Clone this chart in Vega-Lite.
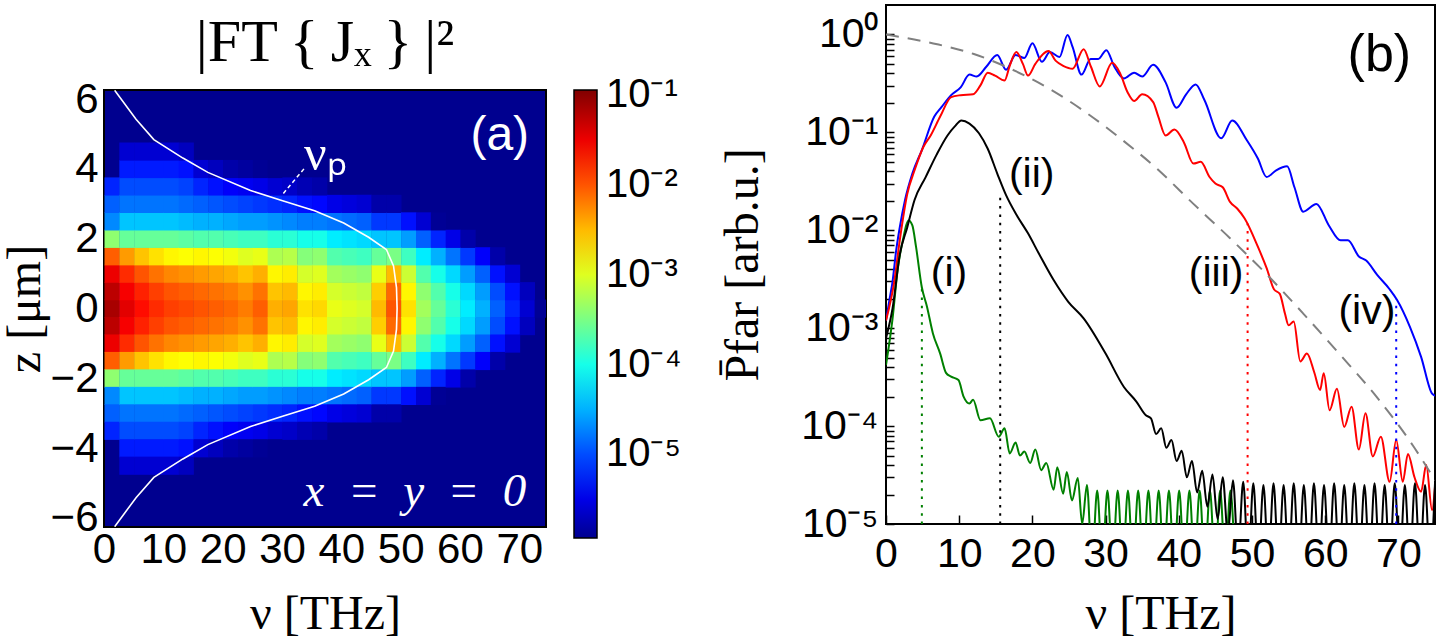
{
  "$schema": "https://vega.github.io/schema/vega-lite/v6.json",
  "background": "white",
  "padding": {"left": 0, "top": 4, "right": 0, "bottom": 0},
  "spacing": 35,
  "config": {
    "font": "Liberation Sans",
    "view": {"stroke": "black", "strokeWidth": 2},
    "axis": {
      "domain": false, "grid": false,
      "tickColor": "black", "tickSize": 6, "tickWidth": 1.5,
      "labelFont": "Liberation Sans", "labelFontSize": 40, "labelColor": "black",
      "labelPadding": 4, "labelFlush": false, "labelOverlap": false,
      "titleFont": "Liberation Serif", "titleFontSize": 48, "titleFontWeight": "normal", "titleColor": "black"
    }
  },
  "datasets": {
    "heat": [
      {"n":0,"z":-0.25,"v":-1.15},{"n":0,"z":0.25,"v":-1.25},{"n":0,"z":-0.75,"v":-1.25},{"n":0,"z":0.75,"v":-1.5},{"n":0,"z":-1.25,"v":-1.5},{"n":0,"z":1.25,"v":-2.05},{"n":0,"z":-1.75,"v":-2.05},{"n":0,"z":1.75,"v":-3.4},{"n":0,"z":-2.25,"v":-3.4},{"n":0,"z":2.25,"v":-4.7},{"n":0,"z":-2.75,"v":-4.7},{"n":0,"z":2.75,"v":-4.9},{"n":0,"z":-3.25,"v":-4.9},{"n":0,"z":3.25,"v":-5.2},{"n":0,"z":-3.75,"v":-5.2},
      {"n":2.5,"z":-0.25,"v":-1.45},{"n":2.5,"z":0.25,"v":-1.55},{"n":2.5,"z":-0.75,"v":-1.55},{"n":2.5,"z":0.75,"v":-1.8},{"n":2.5,"z":-1.25,"v":-1.8},{"n":2.5,"z":1.25,"v":-2.35},{"n":2.5,"z":-1.75,"v":-2.35},{"n":2.5,"z":1.75,"v":-3.6},{"n":2.5,"z":-2.25,"v":-3.6},{"n":2.5,"z":2.25,"v":-4.4},{"n":2.5,"z":-2.75,"v":-4.4},{"n":2.5,"z":2.75,"v":-4.8},{"n":2.5,"z":-3.25,"v":-4.8},{"n":2.5,"z":3.25,"v":-5.0},{"n":2.5,"z":-3.75,"v":-5.0},{"n":2.5,"z":3.75,"v":-5.25},{"n":2.5,"z":-4.25,"v":-5.25},{"n":2.5,"z":4.25,"v":-5.6},{"n":2.5,"z":-4.75,"v":-5.6},
      {"n":5,"z":-0.25,"v":-1.65},{"n":5,"z":0.25,"v":-1.75},{"n":5,"z":-0.75,"v":-1.75},{"n":5,"z":0.75,"v":-2.0},{"n":5,"z":-1.25,"v":-2.0},{"n":5,"z":1.25,"v":-2.55},{"n":5,"z":-1.75,"v":-2.55},{"n":5,"z":1.75,"v":-3.6},{"n":5,"z":-2.25,"v":-3.6},{"n":5,"z":2.25,"v":-4.4},{"n":5,"z":-2.75,"v":-4.4},{"n":5,"z":2.75,"v":-4.8},{"n":5,"z":-3.25,"v":-4.8},{"n":5,"z":3.25,"v":-5.0},{"n":5,"z":-3.75,"v":-5.0},{"n":5,"z":3.75,"v":-5.25},{"n":5,"z":-4.25,"v":-5.25},{"n":5,"z":4.25,"v":-5.6},{"n":5,"z":-4.75,"v":-5.6},
      {"n":7.5,"z":-0.25,"v":-1.8},{"n":7.5,"z":0.25,"v":-1.9},{"n":7.5,"z":-0.75,"v":-1.9},{"n":7.5,"z":0.75,"v":-2.15},{"n":7.5,"z":-1.25,"v":-2.15},{"n":7.5,"z":1.25,"v":-2.7},{"n":7.5,"z":-1.75,"v":-2.7},{"n":7.5,"z":1.75,"v":-3.6},{"n":7.5,"z":-2.25,"v":-3.6},{"n":7.5,"z":2.25,"v":-4.4},{"n":7.5,"z":-2.75,"v":-4.4},{"n":7.5,"z":2.75,"v":-4.8},{"n":7.5,"z":-3.25,"v":-4.8},{"n":7.5,"z":3.25,"v":-5.0},{"n":7.5,"z":-3.75,"v":-5.0},{"n":7.5,"z":3.75,"v":-5.25},{"n":7.5,"z":-4.25,"v":-5.25},{"n":7.5,"z":4.25,"v":-5.6},{"n":7.5,"z":-4.75,"v":-5.6},
      {"n":10,"z":-0.25,"v":-1.9},{"n":10,"z":0.25,"v":-2.0},{"n":10,"z":-0.75,"v":-2.0},{"n":10,"z":0.75,"v":-2.25},{"n":10,"z":-1.25,"v":-2.25},{"n":10,"z":1.25,"v":-2.8},{"n":10,"z":-1.75,"v":-2.8},{"n":10,"z":1.75,"v":-3.6},{"n":10,"z":-2.25,"v":-3.6},{"n":10,"z":2.25,"v":-4.4},{"n":10,"z":-2.75,"v":-4.4},{"n":10,"z":2.75,"v":-4.8},{"n":10,"z":-3.25,"v":-4.8},{"n":10,"z":3.25,"v":-5.0},{"n":10,"z":-3.75,"v":-5.0},{"n":10,"z":3.75,"v":-5.25},{"n":10,"z":-4.25,"v":-5.25},{"n":10,"z":4.25,"v":-5.6},{"n":10,"z":-4.75,"v":-5.6},
      {"n":12.5,"z":-0.25,"v":-1.95},{"n":12.5,"z":0.25,"v":-2.05},{"n":12.5,"z":-0.75,"v":-2.05},{"n":12.5,"z":0.75,"v":-2.3},{"n":12.5,"z":-1.25,"v":-2.3},{"n":12.5,"z":1.25,"v":-2.85},{"n":12.5,"z":-1.75,"v":-2.85},{"n":12.5,"z":1.75,"v":-3.65},{"n":12.5,"z":-2.25,"v":-3.65},{"n":12.5,"z":2.25,"v":-4.45},{"n":12.5,"z":-2.75,"v":-4.45},{"n":12.5,"z":2.75,"v":-4.85},{"n":12.5,"z":-3.25,"v":-4.85},{"n":12.5,"z":3.25,"v":-5.05},{"n":12.5,"z":-3.75,"v":-5.05},{"n":12.5,"z":3.75,"v":-5.3},{"n":12.5,"z":-4.25,"v":-5.3},{"n":12.5,"z":4.25,"v":-5.7},{"n":12.5,"z":-4.75,"v":-5.7},
      {"n":15,"z":-0.25,"v":-2.0},{"n":15,"z":0.25,"v":-2.1},{"n":15,"z":-0.75,"v":-2.1},{"n":15,"z":0.75,"v":-2.35},{"n":15,"z":-1.25,"v":-2.35},{"n":15,"z":1.25,"v":-2.8},{"n":15,"z":-1.75,"v":-2.8},{"n":15,"z":1.75,"v":-3.7},{"n":15,"z":-2.25,"v":-3.7},{"n":15,"z":2.25,"v":-4.5},{"n":15,"z":-2.75,"v":-4.5},{"n":15,"z":2.75,"v":-4.9},{"n":15,"z":-3.25,"v":-4.9},{"n":15,"z":3.25,"v":-5.2},{"n":15,"z":-3.75,"v":-5.2},{"n":15,"z":3.75,"v":-5.6},{"n":15,"z":-4.25,"v":-5.6},
      {"n":17.5,"z":-0.25,"v":-2.05},{"n":17.5,"z":0.25,"v":-2.15},{"n":17.5,"z":-0.75,"v":-2.15},{"n":17.5,"z":0.75,"v":-2.4},{"n":17.5,"z":-1.25,"v":-2.4},{"n":17.5,"z":1.25,"v":-2.85},{"n":17.5,"z":-1.75,"v":-2.85},{"n":17.5,"z":1.75,"v":-3.7},{"n":17.5,"z":-2.25,"v":-3.7},{"n":17.5,"z":2.25,"v":-4.5},{"n":17.5,"z":-2.75,"v":-4.5},{"n":17.5,"z":2.75,"v":-4.95},{"n":17.5,"z":-3.25,"v":-4.95},{"n":17.5,"z":3.25,"v":-5.3},{"n":17.5,"z":-3.75,"v":-5.3},{"n":17.5,"z":3.75,"v":-5.7},{"n":17.5,"z":-4.25,"v":-5.7},
      {"n":20,"z":-0.25,"v":-2.1},{"n":20,"z":0.25,"v":-2.2},{"n":20,"z":-0.75,"v":-2.2},{"n":20,"z":0.75,"v":-2.45},{"n":20,"z":-1.25,"v":-2.45},{"n":20,"z":1.25,"v":-2.9},{"n":20,"z":-1.75,"v":-2.9},{"n":20,"z":1.75,"v":-3.75},{"n":20,"z":-2.25,"v":-3.75},{"n":20,"z":2.25,"v":-4.55},{"n":20,"z":-2.75,"v":-4.55},{"n":20,"z":2.75,"v":-5.0},{"n":20,"z":-3.25,"v":-5.0},{"n":20,"z":3.25,"v":-5.4},{"n":20,"z":-3.75,"v":-5.4},{"n":20,"z":3.75,"v":-5.8},{"n":20,"z":-4.25,"v":-5.8},
      {"n":22.5,"z":-0.25,"v":-2.2},{"n":22.5,"z":0.25,"v":-2.3},{"n":22.5,"z":-0.75,"v":-2.3},{"n":22.5,"z":0.75,"v":-2.55},{"n":22.5,"z":-1.25,"v":-2.55},{"n":22.5,"z":1.25,"v":-3.0},{"n":22.5,"z":-1.75,"v":-3.0},{"n":22.5,"z":1.75,"v":-3.8},{"n":22.5,"z":-2.25,"v":-3.8},{"n":22.5,"z":2.25,"v":-4.6},{"n":22.5,"z":-2.75,"v":-4.6},{"n":22.5,"z":2.75,"v":-5.05},{"n":22.5,"z":-3.25,"v":-5.05},{"n":22.5,"z":3.25,"v":-5.45},{"n":22.5,"z":-3.75,"v":-5.45},{"n":22.5,"z":3.75,"v":-5.85},{"n":22.5,"z":-4.25,"v":-5.85},
      {"n":25,"z":-0.25,"v":-2.05},{"n":25,"z":0.25,"v":-2.15},{"n":25,"z":-0.75,"v":-2.15},{"n":25,"z":0.75,"v":-2.45},{"n":25,"z":-1.25,"v":-2.45},{"n":25,"z":1.25,"v":-2.95},{"n":25,"z":-1.75,"v":-2.95},{"n":25,"z":1.75,"v":-3.8},{"n":25,"z":-2.25,"v":-3.8},{"n":25,"z":2.25,"v":-4.6},{"n":25,"z":-2.75,"v":-4.6},{"n":25,"z":2.75,"v":-5.1},{"n":25,"z":-3.25,"v":-5.1},{"n":25,"z":3.25,"v":-5.5},{"n":25,"z":-3.75,"v":-5.5},{"n":25,"z":3.75,"v":-5.9},{"n":25,"z":-4.25,"v":-5.9},
      {"n":27.5,"z":-0.25,"v":-2.45},{"n":27.5,"z":0.25,"v":-2.55},{"n":27.5,"z":-0.75,"v":-2.55},{"n":27.5,"z":0.75,"v":-2.8},{"n":27.5,"z":-1.25,"v":-2.8},{"n":27.5,"z":1.25,"v":-3.25},{"n":27.5,"z":-1.75,"v":-3.25},{"n":27.5,"z":1.75,"v":-3.9},{"n":27.5,"z":-2.25,"v":-3.9},{"n":27.5,"z":2.25,"v":-4.65},{"n":27.5,"z":-2.75,"v":-4.65},{"n":27.5,"z":2.75,"v":-5.15},{"n":27.5,"z":-3.25,"v":-5.15},{"n":27.5,"z":3.25,"v":-5.6},{"n":27.5,"z":-3.75,"v":-5.6},{"n":27.5,"z":3.75,"v":-6.0},{"n":27.5,"z":-4.25,"v":-6.0},
      {"n":30,"z":-0.25,"v":-2.4},{"n":30,"z":0.25,"v":-2.5},{"n":30,"z":-0.75,"v":-2.5},{"n":30,"z":0.75,"v":-2.75},{"n":30,"z":-1.25,"v":-2.75},{"n":30,"z":1.25,"v":-3.2},{"n":30,"z":-1.75,"v":-3.2},{"n":30,"z":1.75,"v":-3.9},{"n":30,"z":-2.25,"v":-3.9},{"n":30,"z":2.25,"v":-4.7},{"n":30,"z":-2.75,"v":-4.7},{"n":30,"z":2.75,"v":-5.2},{"n":30,"z":-3.25,"v":-5.2},{"n":30,"z":3.25,"v":-5.65},{"n":30,"z":-3.75,"v":-5.65},
      {"n":32.5,"z":-0.25,"v":-2.7},{"n":32.5,"z":0.25,"v":-2.8},{"n":32.5,"z":-0.75,"v":-2.8},{"n":32.5,"z":0.75,"v":-3.05},{"n":32.5,"z":-1.25,"v":-3.05},{"n":32.5,"z":1.25,"v":-3.45},{"n":32.5,"z":-1.75,"v":-3.45},{"n":32.5,"z":1.75,"v":-4.0},{"n":32.5,"z":-2.25,"v":-4.0},{"n":32.5,"z":2.25,"v":-4.75},{"n":32.5,"z":-2.75,"v":-4.75},{"n":32.5,"z":2.75,"v":-5.3},{"n":32.5,"z":-3.25,"v":-5.3},{"n":32.5,"z":3.25,"v":-5.75},{"n":32.5,"z":-3.75,"v":-5.75},
      {"n":35,"z":-0.25,"v":-2.65},{"n":35,"z":0.25,"v":-2.75},{"n":35,"z":-0.75,"v":-2.75},{"n":35,"z":0.75,"v":-3.0},{"n":35,"z":-1.25,"v":-3.0},{"n":35,"z":1.25,"v":-3.4},{"n":35,"z":-1.75,"v":-3.4},{"n":35,"z":1.75,"v":-4.0},{"n":35,"z":-2.25,"v":-4.0},{"n":35,"z":2.25,"v":-4.75},{"n":35,"z":-2.75,"v":-4.75},{"n":35,"z":2.75,"v":-5.35},{"n":35,"z":-3.25,"v":-5.35},{"n":35,"z":3.25,"v":-5.8},{"n":35,"z":-3.75,"v":-5.8},
      {"n":37.5,"z":-0.25,"v":-2.95},{"n":37.5,"z":0.25,"v":-3.05},{"n":37.5,"z":-0.75,"v":-3.05},{"n":37.5,"z":0.75,"v":-3.3},{"n":37.5,"z":-1.25,"v":-3.3},{"n":37.5,"z":1.25,"v":-3.7},{"n":37.5,"z":-1.75,"v":-3.7},{"n":37.5,"z":1.75,"v":-4.2},{"n":37.5,"z":-2.25,"v":-4.2},{"n":37.5,"z":2.25,"v":-4.8},{"n":37.5,"z":-2.75,"v":-4.8},{"n":37.5,"z":2.75,"v":-5.5},{"n":37.5,"z":-3.25,"v":-5.5},
      {"n":40,"z":-0.25,"v":-3.0},{"n":40,"z":0.25,"v":-3.1},{"n":40,"z":-0.75,"v":-3.1},{"n":40,"z":0.75,"v":-3.35},{"n":40,"z":-1.25,"v":-3.35},{"n":40,"z":1.25,"v":-3.75},{"n":40,"z":-1.75,"v":-3.75},{"n":40,"z":1.75,"v":-4.25},{"n":40,"z":-2.25,"v":-4.25},{"n":40,"z":2.25,"v":-4.85},{"n":40,"z":-2.75,"v":-4.85},{"n":40,"z":2.75,"v":-5.55},{"n":40,"z":-3.25,"v":-5.55},
      {"n":42.5,"z":-0.25,"v":-3.05},{"n":42.5,"z":0.25,"v":-3.15},{"n":42.5,"z":-0.75,"v":-3.15},{"n":42.5,"z":0.75,"v":-3.4},{"n":42.5,"z":-1.25,"v":-3.4},{"n":42.5,"z":1.25,"v":-3.8},{"n":42.5,"z":-1.75,"v":-3.8},{"n":42.5,"z":1.75,"v":-4.3},{"n":42.5,"z":-2.25,"v":-4.3},{"n":42.5,"z":2.25,"v":-4.9},{"n":42.5,"z":-2.75,"v":-4.9},{"n":42.5,"z":2.75,"v":-5.6},{"n":42.5,"z":-3.25,"v":-5.6},
      {"n":45,"z":-0.25,"v":-2.5},{"n":45,"z":0.25,"v":-2.6},{"n":45,"z":-0.75,"v":-2.6},{"n":45,"z":0.75,"v":-2.95},{"n":45,"z":-1.25,"v":-2.95},{"n":45,"z":1.25,"v":-3.6},{"n":45,"z":-1.75,"v":-3.6},{"n":45,"z":1.75,"v":-4.4},{"n":45,"z":-2.25,"v":-4.4},{"n":45,"z":2.25,"v":-5.1},{"n":45,"z":-2.75,"v":-5.1},{"n":45,"z":2.75,"v":-5.8},{"n":45,"z":-3.25,"v":-5.8},
      {"n":47.5,"z":-0.25,"v":-2.0},{"n":47.5,"z":0.25,"v":-2.1},{"n":47.5,"z":-0.75,"v":-2.1},{"n":47.5,"z":0.75,"v":-2.5},{"n":47.5,"z":-1.25,"v":-2.5},{"n":47.5,"z":1.25,"v":-3.5},{"n":47.5,"z":-1.75,"v":-3.5},{"n":47.5,"z":1.75,"v":-4.4},{"n":47.5,"z":-2.25,"v":-4.4},{"n":47.5,"z":2.25,"v":-5.1},{"n":47.5,"z":-2.75,"v":-5.1},{"n":47.5,"z":2.75,"v":-5.8},{"n":47.5,"z":-3.25,"v":-5.8},
      {"n":50,"z":-0.25,"v":-2.7},{"n":50,"z":0.25,"v":-2.8},{"n":50,"z":-0.75,"v":-2.8},{"n":50,"z":0.75,"v":-3.1},{"n":50,"z":-1.25,"v":-3.1},{"n":50,"z":1.25,"v":-3.8},{"n":50,"z":-1.75,"v":-3.8},{"n":50,"z":1.75,"v":-4.6},{"n":50,"z":-2.25,"v":-4.6},{"n":50,"z":2.25,"v":-5.3},{"n":50,"z":-2.75,"v":-5.3},
      {"n":52.5,"z":-0.25,"v":-3.3},{"n":52.5,"z":0.25,"v":-3.4},{"n":52.5,"z":-0.75,"v":-3.4},{"n":52.5,"z":0.75,"v":-3.7},{"n":52.5,"z":-1.25,"v":-3.7},{"n":52.5,"z":1.25,"v":-4.2},{"n":52.5,"z":-1.75,"v":-4.2},{"n":52.5,"z":1.75,"v":-4.9},{"n":52.5,"z":-2.25,"v":-4.9},{"n":52.5,"z":2.25,"v":-5.6},{"n":52.5,"z":-2.75,"v":-5.6},
      {"n":55,"z":-0.25,"v":-3.6},{"n":55,"z":0.25,"v":-3.7},{"n":55,"z":-0.75,"v":-3.7},{"n":55,"z":0.75,"v":-4.0},{"n":55,"z":-1.25,"v":-4.0},{"n":55,"z":1.25,"v":-4.5},{"n":55,"z":-1.75,"v":-4.5},{"n":55,"z":1.75,"v":-5.2},{"n":55,"z":-2.25,"v":-5.2},{"n":55,"z":2.25,"v":-5.9},{"n":55,"z":-2.75,"v":-5.9},
      {"n":57.5,"z":-0.25,"v":-3.9},{"n":57.5,"z":0.25,"v":-4.0},{"n":57.5,"z":-0.75,"v":-4.0},{"n":57.5,"z":0.75,"v":-4.3},{"n":57.5,"z":-1.25,"v":-4.3},{"n":57.5,"z":1.25,"v":-4.8},{"n":57.5,"z":-1.75,"v":-4.8},{"n":57.5,"z":1.75,"v":-5.5},{"n":57.5,"z":-2.25,"v":-5.5},
      {"n":60,"z":-0.25,"v":-4.2},{"n":60,"z":0.25,"v":-4.3},{"n":60,"z":-0.75,"v":-4.3},{"n":60,"z":0.75,"v":-4.6},{"n":60,"z":-1.25,"v":-4.6},{"n":60,"z":1.25,"v":-5.1},{"n":60,"z":-1.75,"v":-5.1},{"n":60,"z":1.75,"v":-5.8},{"n":60,"z":-2.25,"v":-5.8},
      {"n":62.5,"z":-0.25,"v":-4.5},{"n":62.5,"z":0.25,"v":-4.6},{"n":62.5,"z":-0.75,"v":-4.6},{"n":62.5,"z":0.75,"v":-4.9},{"n":62.5,"z":-1.25,"v":-4.9},{"n":62.5,"z":1.25,"v":-5.4},{"n":62.5,"z":-1.75,"v":-5.4},
      {"n":65,"z":-0.25,"v":-4.9},{"n":65,"z":0.25,"v":-5.0},{"n":65,"z":-0.75,"v":-5.0},{"n":65,"z":0.75,"v":-5.3},{"n":65,"z":-1.25,"v":-5.3},{"n":65,"z":1.25,"v":-5.8},{"n":65,"z":-1.75,"v":-5.8},
      {"n":67.5,"z":-0.25,"v":-5.2},{"n":67.5,"z":0.25,"v":-5.3},{"n":67.5,"z":-0.75,"v":-5.3},{"n":67.5,"z":0.75,"v":-5.6},{"n":67.5,"z":-1.25,"v":-5.6},
      {"n":70,"z":-0.25,"v":-5.6},{"n":70,"z":0.25,"v":-5.7},{"n":70,"z":-0.75,"v":-5.7},
      {"n":72.5,"z":-0.25,"v":-5.9}
    ],
    "plasma": [
      {"nu":1.8,"z":-6.25},{"nu":2.1,"z":-6.18},{"nu":5.4,"z":-5.42},{"nu":8.4,"z":-4.84},{"nu":13.3,"z":-4.31},{"nu":17.5,"z":-3.9},{"nu":24.7,"z":-3.38},{"nu":30.1,"z":-3.09},{"nu":35.5,"z":-2.8},{"nu":40.4,"z":-2.45},{"nu":44.6,"z":-2.04},{"nu":47.6,"z":-1.69},{"nu":48.8,"z":-1.22},{"nu":49.3,"z":-0.6},{"nu":49.4,"z":0},{"nu":49.3,"z":0.6},{"nu":48.8,"z":1.22},{"nu":47.6,"z":1.69},{"nu":44.6,"z":2.04},{"nu":40.4,"z":2.45},{"nu":35.5,"z":2.8},{"nu":30.1,"z":3.09},{"nu":24.7,"z":3.38},{"nu":17.5,"z":3.9},{"nu":13.3,"z":4.31},{"nu":8.4,"z":4.84},{"nu":5.4,"z":5.42},{"nu":2.1,"z":6.18},{"nu":1.8,"z":6.25}
    ],
    "spectra": [
      {"s":"blue","x":0,"y":0.0012},{"s":"blue","x":0.5,"y":0.002},{"s":"blue","x":0.87,"y":0.0029},{"s":"blue","x":1.4,"y":0.0063},{"s":"blue","x":1.88,"y":0.0107},{"s":"blue","x":2.6,"y":0.0204},{"s":"blue","x":3.6,"y":0.038},{"s":"blue","x":4.9,"y":0.066},{"s":"blue","x":6.6,"y":0.145},{"s":"blue","x":7.6,"y":0.182},{"s":"blue","x":8.9,"y":0.24},{"s":"blue","x":10.2,"y":0.288},{"s":"blue","x":11.4,"y":0.389},{"s":"blue","x":12.4,"y":0.372},{"s":"blue","x":13.7,"y":0.468},{"s":"blue","x":15.2,"y":0.617},{"s":"blue","x":16.4,"y":0.437},{"s":"blue","x":17.7,"y":0.617},{"s":"blue","x":18.9,"y":0.575},{"s":"blue","x":20.0,"y":0.813},{"s":"blue","x":21.3,"y":0.525},{"s":"blue","x":22.4,"y":0.661},{"s":"blue","x":23.7,"y":0.589},{"s":"blue","x":24.8,"y":0.99},{"s":"blue","x":25.5,"y":0.741},{"s":"blue","x":26.7,"y":0.389},{"s":"blue","x":27.96,"y":0.562},{"s":"blue","x":29.0,"y":0.562},{"s":"blue","x":30.1,"y":0.692},{"s":"blue","x":31.2,"y":0.468},{"s":"blue","x":32.5,"y":0.355},{"s":"blue","x":33.9,"y":0.407},{"s":"blue","x":35.0,"y":0.372},{"s":"blue","x":36.5,"y":0.49},{"s":"blue","x":38.2,"y":0.324},{"s":"blue","x":39.7,"y":0.178},{"s":"blue","x":41.0,"y":0.245},{"s":"blue","x":42.3,"y":0.309},{"s":"blue","x":43.5,"y":0.214},{"s":"blue","x":45.8,"y":0.087},{"s":"blue","x":47.3,"y":0.132},{"s":"blue","x":49.3,"y":0.083},{"s":"blue","x":50.8,"y":0.054},{"s":"blue","x":52.0,"y":0.035},{"s":"blue","x":53.3,"y":0.041},{"s":"blue","x":54.8,"y":0.045},{"s":"blue","x":55.8,"y":0.0275},{"s":"blue","x":57.0,"y":0.0155},{"s":"blue","x":58.8,"y":0.0186},{"s":"blue","x":60.5,"y":0.0112},{"s":"blue","x":62.1,"y":0.0079},{"s":"blue","x":63.1,"y":0.0079},{"s":"blue","x":64.6,"y":0.0054},{"s":"blue","x":65.6,"y":0.0049},{"s":"blue","x":67.1,"y":0.0035},{"s":"blue","x":68.8,"y":0.0025},{"s":"blue","x":69.8,"y":0.00195},{"s":"blue","x":71.6,"y":0.00102},{"s":"blue","x":73.1,"y":0.00051},{"s":"blue","x":74.6,"y":0.000214},{"s":"blue","x":75,"y":0.000204},
      {"s":"red","x":0,"y":0.0012},{"s":"red","x":1.1,"y":0.0029},{"s":"red","x":1.88,"y":0.0079},{"s":"red","x":2.9,"y":0.0234},{"s":"red","x":3.9,"y":0.041},{"s":"red","x":5.1,"y":0.071},{"s":"red","x":6.1,"y":0.093},{"s":"red","x":7.4,"y":0.145},{"s":"red","x":8.9,"y":0.229},{"s":"red","x":10.2,"y":0.24},{"s":"red","x":11.9,"y":0.245},{"s":"red","x":12.9,"y":0.302},{"s":"red","x":13.9,"y":0.407},{"s":"red","x":14.9,"y":0.38},{"s":"red","x":16.2,"y":0.339},{"s":"red","x":16.9,"y":0.479},{"s":"red","x":17.8,"y":0.661},{"s":"red","x":18.7,"y":0.501},{"s":"red","x":19.4,"y":0.38},{"s":"red","x":20.4,"y":0.501},{"s":"red","x":22.2,"y":0.676},{"s":"red","x":23.2,"y":0.537},{"s":"red","x":24.2,"y":0.479},{"s":"red","x":25.5,"y":0.447},{"s":"red","x":27.0,"y":0.708},{"s":"red","x":28.0,"y":0.468},{"s":"red","x":29.2,"y":0.295},{"s":"red","x":30.9,"y":0.513},{"s":"red","x":32.0,"y":0.398},{"s":"red","x":33.0,"y":0.257},{"s":"red","x":33.9,"y":0.209},{"s":"red","x":35.0,"y":0.245},{"s":"red","x":36.5,"y":0.204},{"s":"red","x":37.2,"y":0.145},{"s":"red","x":38.2,"y":0.093},{"s":"red","x":39.4,"y":0.107},{"s":"red","x":40.7,"y":0.079},{"s":"red","x":42.0,"y":0.048},{"s":"red","x":43.0,"y":0.05},{"s":"red","x":44.2,"y":0.035},{"s":"red","x":45.0,"y":0.03},{"s":"red","x":46.0,"y":0.0275},{"s":"red","x":47.0,"y":0.0195},{"s":"red","x":48.0,"y":0.0166},{"s":"red","x":49.0,"y":0.0132},{"s":"red","x":50.8,"y":0.0068},{"s":"red","x":52.0,"y":0.0041},{"s":"red","x":53.0,"y":0.0025},{"s":"red","x":53.8,"y":0.00224},{"s":"red","x":54.5,"y":0.00141},{"s":"red","x":55.0,"y":0.00107},{"s":"red","x":55.7,"y":0.00117},{"s":"red","x":56.6,"y":0.000457},{"s":"red","x":57.5,"y":0.00055},{"s":"red","x":58.5,"y":0.000355},{"s":"red","x":59.3,"y":0.000234},{"s":"red","x":59.8,"y":0.000347},{"s":"red","x":60.6,"y":0.000145},{"s":"red","x":61.6,"y":0.00024},{"s":"red","x":62.6,"y":0.000098},{"s":"red","x":63.6,"y":0.000158},{"s":"red","x":64.6,"y":0.0000575},{"s":"red","x":65.5,"y":0.000135},{"s":"red","x":66.5,"y":0.000049},{"s":"red","x":67.6,"y":0.000078},{"s":"red","x":68.8,"y":0.000027},{"s":"red","x":69.7,"y":0.000072},{"s":"red","x":70.6,"y":0.000027},{"s":"red","x":71.3,"y":0.000052},{"s":"red","x":72.2,"y":0.00003},{"s":"red","x":73.1,"y":0.0000214},{"s":"red","x":73.8,"y":0.00004},{"s":"red","x":74.6,"y":0.0000138},{"s":"red","x":75,"y":0.000024},
      {"s":"green","x":0,"y":0.00042},{"s":"green","x":0.9,"y":0.00126},{"s":"green","x":1.6,"y":0.004},{"s":"green","x":2.3,"y":0.0079},{"s":"green","x":3.1,"y":0.0126},{"s":"green","x":3.6,"y":0.0112},{"s":"green","x":4.1,"y":0.0068},{"s":"green","x":4.9,"y":0.0026},{"s":"green","x":5.6,"y":0.00166},{"s":"green","x":6.4,"y":0.00089},{"s":"green","x":7.4,"y":0.00055},{"s":"green","x":8.2,"y":0.00035},{"s":"green","x":8.9,"y":0.00032},{"s":"green","x":9.9,"y":0.000295},{"s":"green","x":10.6,"y":0.0002},{"s":"green","x":11.4,"y":0.00017},{"s":"green","x":11.9,"y":0.000186},{"s":"green","x":12.9,"y":0.000115},{"s":"green","x":14.2,"y":0.00012},{"s":"green","x":15.4,"y":0.000078},{"s":"green","x":16.2,"y":0.000095},{"s":"green","x":16.9,"y":0.0000525},{"s":"green","x":17.7,"y":0.000068},{"s":"green","x":18.3,"y":0.00005},{"s":"green","x":18.9,"y":0.000055},{"s":"green","x":19.7,"y":0.000042},{"s":"green","x":20.4,"y":0.0000575},{"s":"green","x":21.2,"y":0.0000355},{"s":"green","x":21.9,"y":0.000042},{"s":"green","x":22.9,"y":0.0000224},{"s":"green","x":23.4,"y":0.000038},{"s":"green","x":24.2,"y":0.0000204},{"s":"green","x":24.7,"y":0.000034},{"s":"green","x":25.4,"y":0.0000174},{"s":"green","x":26.2,"y":0.0000295},{"s":"green","x":26.8,"y":0.00001},{"s":"green","x":27.45,"y":0.000025},{"s":"green","x":28.15,"y":0.000004},{"s":"green","x":28.85,"y":0.000022},{"s":"green","x":29.55,"y":0.000004},{"s":"green","x":30.25,"y":0.000022},{"s":"green","x":30.95,"y":0.000004},{"s":"green","x":31.65,"y":0.000022},{"s":"green","x":32.35,"y":0.000004},{"s":"green","x":33.05,"y":0.000022},{"s":"green","x":33.75,"y":0.000004},{"s":"green","x":34.45,"y":0.000022},{"s":"green","x":35.15,"y":0.000004},{"s":"green","x":35.85,"y":0.000022},{"s":"green","x":36.55,"y":0.000004},{"s":"green","x":37.25,"y":0.000022},{"s":"green","x":37.95,"y":0.000004},{"s":"green","x":38.65,"y":0.000022},{"s":"green","x":39.35,"y":0.000004},{"s":"green","x":40.05,"y":0.000022},{"s":"green","x":40.75,"y":0.000004},{"s":"green","x":41.45,"y":0.000022},{"s":"green","x":42.15,"y":0.000004},{"s":"green","x":42.85,"y":0.000022},{"s":"green","x":43.55,"y":0.000004},{"s":"green","x":44.25,"y":0.000022},{"s":"green","x":44.95,"y":0.000004},{"s":"green","x":45.65,"y":0.000022},{"s":"green","x":46.35,"y":0.000004},{"s":"green","x":47.05,"y":0.000022},{"s":"green","x":47.75,"y":0.000004},{"s":"green","x":48.5,"y":0.000002},
      {"s":"black","x":0,"y":0.00079},{"s":"black","x":0.9,"y":0.0016},{"s":"black","x":1.9,"y":0.00575},{"s":"black","x":2.9,"y":0.0107},{"s":"black","x":3.9,"y":0.0204},{"s":"black","x":5.4,"y":0.0347},{"s":"black","x":6.9,"y":0.0589},{"s":"black","x":8.4,"y":0.093},{"s":"black","x":9.4,"y":0.115},{"s":"black","x":10.3,"y":0.132},{"s":"black","x":11.4,"y":0.123},{"s":"black","x":12.7,"y":0.098},{"s":"black","x":13.9,"y":0.068},{"s":"black","x":15.2,"y":0.038},{"s":"black","x":16.4,"y":0.0229},{"s":"black","x":17.9,"y":0.0141},{"s":"black","x":19.4,"y":0.0093},{"s":"black","x":20.9,"y":0.00575},{"s":"black","x":22.9,"y":0.0031},{"s":"black","x":24.9,"y":0.00186},{"s":"black","x":27.0,"y":0.00126},{"s":"black","x":30.0,"y":0.00055},{"s":"black","x":32.5,"y":0.000251},{"s":"black","x":34.2,"y":0.000178},{"s":"black","x":35.5,"y":0.000129},{"s":"black","x":36.2,"y":0.00012},{"s":"black","x":36.9,"y":0.000083},{"s":"black","x":37.6,"y":0.000095},{"s":"black","x":38.3,"y":0.00006},{"s":"black","x":39.0,"y":0.000072},{"s":"black","x":39.7,"y":0.000044},{"s":"black","x":40.4,"y":0.000056},{"s":"black","x":41.1,"y":0.00003},{"s":"black","x":41.8,"y":0.000044},{"s":"black","x":42.5,"y":0.000021},{"s":"black","x":43.2,"y":0.000035},{"s":"black","x":43.9,"y":0.000015},{"s":"black","x":44.6,"y":0.000032},{"s":"black","x":45.3,"y":0.0000112},{"s":"black","x":46.0,"y":0.00003},{"s":"black","x":46.7,"y":0.0000079},{"s":"black","x":47.4,"y":0.000028},{"s":"black","x":48.1,"y":0.000005},{"s":"black","x":48.8,"y":0.000027},{"s":"black","x":49.49,"y":0.000004},{"s":"black","x":50.18,"y":0.000026},{"s":"black","x":50.87,"y":0.000004},{"s":"black","x":51.56,"y":0.000025},{"s":"black","x":52.25,"y":0.000004},{"s":"black","x":52.94,"y":0.000026},{"s":"black","x":53.63,"y":0.000004},{"s":"black","x":54.32,"y":0.000025},{"s":"black","x":55.01,"y":0.000004},{"s":"black","x":55.7,"y":0.000026},{"s":"black","x":56.39,"y":0.000004},{"s":"black","x":57.08,"y":0.000025},{"s":"black","x":57.77,"y":0.000004},{"s":"black","x":58.46,"y":0.000026},{"s":"black","x":59.15,"y":0.000004},{"s":"black","x":59.84,"y":0.000025},{"s":"black","x":60.53,"y":0.000004},{"s":"black","x":61.22,"y":0.000026},{"s":"black","x":61.91,"y":0.000004},{"s":"black","x":62.6,"y":0.000025},{"s":"black","x":63.29,"y":0.000004},{"s":"black","x":63.98,"y":0.000026},{"s":"black","x":64.67,"y":0.000004},{"s":"black","x":65.36,"y":0.000025},{"s":"black","x":66.05,"y":0.000004},{"s":"black","x":66.74,"y":0.000026},{"s":"black","x":67.43,"y":0.000004},{"s":"black","x":68.12,"y":0.000025},{"s":"black","x":68.81,"y":0.000004},{"s":"black","x":69.5,"y":0.000026},{"s":"black","x":70.19,"y":0.000004},{"s":"black","x":70.88,"y":0.000025},{"s":"black","x":71.57,"y":0.000004},{"s":"black","x":72.26,"y":0.000026},{"s":"black","x":72.95,"y":0.000004},{"s":"black","x":73.64,"y":0.000025},{"s":"black","x":74.33,"y":0.000004},{"s":"black","x":75,"y":0.000026}
    ],
    "envelope": [
      {"x":0,"y":1.0},{"x":7,"y":0.794},{"x":12,"y":0.631},{"x":17,"y":0.447},{"x":22,"y":0.288},{"x":27,"y":0.166},{"x":32,"y":0.087},{"x":37,"y":0.0427},{"x":42,"y":0.0186},{"x":47,"y":0.0083},{"x":52,"y":0.00355},{"x":57,"y":0.00141},{"x":62,"y":0.00054},{"x":67,"y":0.0002},{"x":72,"y":0.000063},{"x":75,"y":0.000028}
    ],
    "cutoffs": [
      {"s":"green","x":4.9,"lo":0.00001,"hi":0.0026},
      {"s":"black","x":15.6,"lo":0.00001,"hi":0.0245},
      {"s":"red","x":49.4,"lo":0.00001,"hi":0.0117},
      {"s":"blue","x":69.7,"lo":0.00001,"hi":0.00195}
    ],
    "cases": [
      {"x":8.6,"y":0.0036,"t":"(i)"},
      {"x":19.9,"y":0.037,"t":"(ii)"},
      {"x":45.1,"y":0.0036,"t":"(iii)"},
      {"x":65.7,"y":0.00145,"t":"(iv)"}
    ]
  },
  "hconcat": [
    {
      "spacing": 4,
      "resolve": {"scale": {"color": "independent"}, "legend": {"color": "independent"}},
      "vconcat": [
        {
          "width": 442,
          "height": 64,
          "view": {"stroke": null},
          "data": {"values": [{"t": "|FT\u2009{\u2009Jₓ\u2009}\u2009|²"}]},
          "mark": {"type": "text", "font": "Liberation Serif", "fontSize": 60, "color": "black", "align": "center", "baseline": "middle", "dy": 6},
          "encoding": {"text": {"field": "t"}}
        },
        {
          "width": 442,
          "height": 437,
          "view": {"fill": "#00008F", "stroke": "black", "strokeWidth": 2},
          "layer": [
            {
              "data": {"name": "heat"},
              "mark": {"type": "rect", "clip": true},
              "encoding": {
                "x": {"field": "n", "type": "quantitative", "bin": {"binned": true, "step": 2.56},
                      "scale": {"domain": [0, 74.5], "nice": false},
                      "axis": {"values": [0,10,20,30,40,50,60,70], "format": "d", "title": "ν [THz]", "labelFontSize": 42, "ticks": false, "labelPadding": 2, "titlePadding": 20}},
                "y": {"field": "z", "type": "quantitative", "bin": {"binned": true, "step": 0.52},
                      "scale": {"domain": [-6.26, 6.26], "nice": false},
                      "axis": {"values": [-6,-4,-2,0,2,4,6], "format": "d", "title": "z [μm]", "labelFontSize": 42, "ticks": false, "labelPadding": 6, "titlePadding": 1}},
                "color": {
                  "field": "v", "type": "quantitative",
                  "scale": {"domain": [-5.93,-5.38,-4.11,-2.84,-1.59,-0.945],
                            "range": ["#00008F","#0000FF","#00FFFF","#FFFF00","#FF0000","#800000"],
                            "interpolate": "rgb", "clamp": true},
                  "legend": {
                    "type": "gradient",
                    "orient": "right", "offset": 28, "padding": 0, "title": null, "direction": "vertical",
                    "gradientLength": 448, "gradientThickness": 23,
                    "gradientStrokeColor": "black", "gradientStrokeWidth": 1.5,
                    "values": [-5,-4,-3,-2,-1],
                    "labelExpr": "'10' + ['⁰','⁻¹','⁻²','⁻³','⁻⁴','⁻⁵','⁻⁶'][-round(datum.value)]",
                    "labelFont": "Liberation Sans", "labelFontSize": 40, "labelColor": "black",
                    "labelOffset": 9, "labelOverlap": false
                  }
                }
              }
            },
            {
              "data": {"name": "plasma"},
              "mark": {"type": "line", "color": "white", "strokeWidth": 1.6, "clip": true},
              "encoding": {
                "x": {"field": "nu", "type": "quantitative"},
                "y": {"field": "z", "type": "quantitative"},
                "order": {"field": "z", "type": "quantitative"}
              }
            },
            {
              "data": {"values": [{"x": 33.7, "y": 4.0, "x2": 30.0, "y2": 3.25}]},
              "mark": {"type": "rule", "color": "white", "strokeWidth": 1.5, "strokeDash": [4, 3]},
              "encoding": {
                "x": {"field": "x", "type": "quantitative"},
                "y": {"field": "y", "type": "quantitative"},
                "x2": {"field": "x2"},
                "y2": {"field": "y2"}
              }
            },
            {
              "data": {"values": [{"x": 37.3, "y": 4.4, "t": "νₚ"}]},
              "mark": {"type": "text", "font": "Liberation Serif", "fontSize": 50, "color": "white", "align": "center", "baseline": "middle"},
              "encoding": {
                "x": {"field": "x", "type": "quantitative"},
                "y": {"field": "y", "type": "quantitative"},
                "text": {"field": "t"}
              }
            },
            {
              "data": {"values": [{"x": 66.7, "y": 4.94, "t": "(a)"}]},
              "mark": {"type": "text", "font": "Liberation Sans", "fontSize": 48, "color": "white", "align": "center", "baseline": "middle"},
              "encoding": {
                "x": {"field": "x", "type": "quantitative"},
                "y": {"field": "y", "type": "quantitative"},
                "text": {"field": "t"}
              }
            },
            {
              "data": {"values": [{"x": 52.4, "y": -5.25, "t": "x\u2002=\u2002y\u2002=\u20020"}]},
              "mark": {"type": "text", "font": "Liberation Serif", "fontStyle": "italic", "fontSize": 47, "color": "white", "align": "center", "baseline": "middle"},
              "encoding": {
                "x": {"field": "x", "type": "quantitative"},
                "y": {"field": "y", "type": "quantitative"},
                "text": {"field": "t"}
              }
            }
          ]
        }
      ]
    },
    {
      "width": 549,
      "height": 519,
      "layer": [
        {
          "data": {"name": "spectra"},
          "mark": {"type": "line", "strokeWidth": 2, "interpolate": "monotone", "clip": true},
          "encoding": {
            "x": {"field": "x", "type": "quantitative", "scale": {"domain": [0, 75], "nice": false},
                  "axis": {"values": [0,10,20,30,40,50,60,70], "title": "ν [THz]", "labelFontSize": 41,
                           "tickSize": 9, "offset": -9, "labelPadding": 10, "titlePadding": 16}},
            "y": {"field": "y", "type": "quantitative", "scale": {"type": "log", "domain": [0.00001, 2], "nice": false},
                  "axis": {"values": [0.00001,0.00002,0.00003,0.00004,0.00005,0.00006,0.00007,0.00008,0.00009,0.0001,0.0002,0.0003,0.0004,0.0005,0.0006,0.0007,0.0008,0.0009,0.001,0.002,0.003,0.004,0.005,0.006,0.007,0.008,0.009,0.01,0.02,0.03,0.04,0.05,0.06,0.07,0.08,0.09,0.1,0.2,0.3,0.4,0.5,0.6,0.7,0.8,0.9,1],
                           "title": "P̄far [arb.u.]", "labelFontSize": 41,
                           "tickSize": 8, "offset": -8, "labelPadding": 8, "titlePadding": 33,
                           "labelExpr": "abs(log(datum.value)/LN10 - round(log(datum.value)/LN10)) < 0.001 ? '10' + ['⁰','⁻¹','⁻²','⁻³','⁻⁴','⁻⁵'][-round(log(datum.value)/LN10)] : ''"}},
            "color": {"field": "s", "type": "nominal",
                      "scale": {"domain": ["blue","red","green","black"], "range": ["#0000FF","#FF0000","#008000","#000000"]},
                      "legend": null}
          }
        },
        {
          "data": {"name": "envelope"},
          "mark": {"type": "line", "color": "#808080", "strokeWidth": 2, "strokeDash": [13, 9], "interpolate": "monotone", "clip": true},
          "encoding": {
            "x": {"field": "x", "type": "quantitative"},
            "y": {"field": "y", "type": "quantitative"}
          }
        },
        {
          "data": {"name": "cutoffs"},
          "mark": {"type": "rule", "strokeWidth": 2, "strokeDash": [2.5, 5.8]},
          "encoding": {
            "x": {"field": "x", "type": "quantitative"},
            "y": {"field": "lo", "type": "quantitative"},
            "y2": {"field": "hi"},
            "color": {"field": "s", "type": "nominal", "legend": null}
          }
        },
        {
          "data": {"name": "cases"},
          "mark": {"type": "text", "font": "Liberation Sans", "fontSize": 41, "color": "black", "align": "center", "baseline": "middle"},
          "encoding": {
            "x": {"field": "x", "type": "quantitative"},
            "y": {"field": "y", "type": "quantitative"},
            "text": {"field": "t"}
          }
        },
        {
          "data": {"values": [{"x": 67.4, "y": 0.62, "t": "(b)"}]},
          "mark": {"type": "text", "font": "Liberation Sans", "fontSize": 52, "color": "black", "align": "center", "baseline": "middle"},
          "encoding": {
            "x": {"field": "x", "type": "quantitative"},
            "y": {"field": "y", "type": "quantitative"},
            "text": {"field": "t"}
          }
        }
      ]
    }
  ]
}
